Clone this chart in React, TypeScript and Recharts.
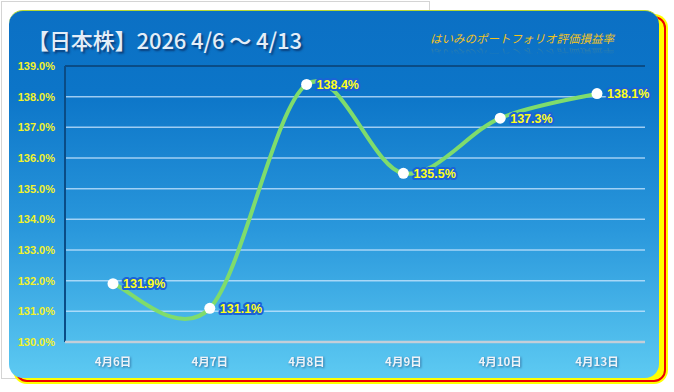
import React from "react";
import { LineChart, Line, XAxis, YAxis, CartesianGrid, LabelList, ReferenceLine } from "recharts";

const days = ["4月6日", "4月7日", "4月8日", "4月9日", "4月10日", "4月13日"];
const rates = [131.9, 131.1, 138.4, 135.5, 137.3, 138.1];
const yTicks = [130, 131, 132, 133, 134, 135, 136, 137, 138, 139];
const frameTicks = [0, 1, 2, 3, 4, 5, 6];

const data = days.map((day, i) => ({ day, rate: rates[i] }));

// Excel-style smoothed line (Catmull-Rom through every point)
const smoothCurve = (context: any) => {
    let pts: number[][] = [];
    return {
        areaStart() {},
        areaEnd() {},
        lineStart() { pts = []; },
        point(x: number, y: number) { pts.push([+x, +y]); },
        lineEnd() {
            if (!pts.length) return;
            context.moveTo(pts[0][0], pts[0][1]);
            for (let i = 0; i < pts.length - 1; i++) {
                const p0 = pts[i - 1] || pts[i];
                const p1 = pts[i];
                const p2 = pts[i + 1];
                const p3 = pts[i + 2] || pts[i + 1];
                context.bezierCurveTo(
                    p1[0] + (p2[0] - p0[0]) / 6, p1[1] + (p2[1] - p0[1]) / 6,
                    p2[0] - (p3[0] - p1[0]) / 6, p2[1] - (p3[1] - p1[1]) / 6,
                    p2[0], p2[1]
                );
            }
        },
    };
};

const PointLabel = (props: any) => {
    const x = props.x ?? props.viewBox?.x;
    const y = props.y ?? props.viewBox?.y;
    return (
        <text
            x={x + 10}
            y={y}
            dy={4.5}
            fill="#ffff1a"
            stroke="#1b63d6"
            strokeWidth={4}
            strokeLinejoin="round"
            paintOrder="stroke"
            fontFamily="'Liberation Sans', Arial, sans-serif"
            fontWeight="bold"
            fontSize={12.5}
        >
            {`${Number(props.value).toFixed(1)}%`}
        </text>
    );
};

const DayTick = ({ x, y, payload }: any) => (
    <text
        x={x}
        y={y}
        dy={10}
        textAnchor="middle"
        fill="#eef3f8"
        fontFamily="'Noto Sans CJK JP', sans-serif"
        fontWeight="bold"
        fontSize={11.5}
        style={{ filter: "drop-shadow(1px 1px 1px rgba(20,60,110,0.6))" }}
    >
        {payload.value}
    </text>
);

export default function App() {
    return (
        <div style={{ position: "fixed", left: 0, top: 0, width: 674, height: 392, background: "#fff", overflow: "hidden" }}>
            {/* faint frame behind */}
            <div style={{ position: "absolute", left: 1, top: 1, width: 427, height: 376, border: "1px solid #d4d4d4" }} />

            {/* yellow / red shadow */}
            <div style={{ position: "absolute", left: 13, top: 14, width: 655, height: 370, background: "#ffff00", borderRadius: 14 }}>
                <div style={{ position: "absolute", left: 2, top: 2, right: 2, bottom: 2, border: "2px solid #ee0000", borderRadius: 12 }} />
            </div>

            {/* card */}
            <div
                style={{
                    position: "absolute",
                    left: 9,
                    top: 10,
                    width: 650,
                    height: 368,
                    borderRadius: 14,
                    background: "linear-gradient(to bottom, #0b70c4 0%, #0c75c8 22%, #2a98dc 60%, #5dcaf2 100%)",
                    borderTop: "1px solid #b8d830",
                    boxSizing: "border-box",
                }}
            />

            <div
                style={{
                    position: "absolute",
                    left: 27,
                    top: 23,
                    color: "#e4eef8",
                    fontFamily: "'Noto Sans CJK JP', sans-serif",
                    fontSize: 22,
                    fontWeight: 500,
                    whiteSpace: "nowrap",
                    letterSpacing: -0.1,
                    textShadow: "2px 2px 2px rgba(10,40,90,0.7)",
                }}
            >
                【日本株】2026 4/6 ～ 4/13
            </div>

            <div style={{ position: "absolute", left: 430, top: 30, fontFamily: "'Noto Sans CJK JP', sans-serif", fontSize: 11.5, fontStyle: "italic", color: "#f2c21e", whiteSpace: "nowrap", lineHeight: "16px" }}>
                はいみのポートフォリオ評価損益率
            </div>
            <div
                style={{
                    position: "absolute",
                    left: 430,
                    top: 46,
                    fontFamily: "'Noto Sans CJK JP', sans-serif",
                    fontSize: 11.5,
                    fontStyle: "italic",
                    color: "#f2c21e",
                    whiteSpace: "nowrap",
                    lineHeight: "16px",
                    transform: "scaleY(-1)",
                    opacity: 0.25,
                    WebkitMaskImage: "linear-gradient(to top, rgba(0,0,0,1), rgba(0,0,0,0) 55%)",
                }}
            >
                はいみのポートフォリオ評価損益率
            </div>

            <div style={{ position: "absolute", left: 0, top: 0 }}>
                <LineChart width={674} height={392} data={data} margin={{ top: 66, right: 29, bottom: 0, left: 0 }}>
                    <CartesianGrid xAxisId="b" vertical={false} stroke="rgba(205,232,255,0.75)" strokeWidth={1.5} />
                    <XAxis
                        xAxisId="b"
                        dataKey="day"
                        height={44}
                        axisLine={false}
                        tickLine={false}
                        tickSize={0}
                        tickMargin={8}
                        interval={0}
                        padding={{ left: 48, right: 48 }}
                        tick={<DayTick />}
                    />
                    <XAxis
                        xAxisId="a"
                        type="number"
                        domain={[0, 6]}
                        ticks={frameTicks}
                        tick={false}
                        height={6}
                        axisLine={{ stroke: "#c4ced8", strokeWidth: 2.5 }}
                        tickLine={{ stroke: "#c4ced8", strokeWidth: 1.5 }}
                        tickSize={5}
                    />
                    <YAxis
                        domain={[130, 139]}
                        ticks={yTicks}
                        width={65}
                        axisLine={false}
                        tickLine={false}
                        tickSize={0}
                        tickMargin={10}
                        tickFormatter={(v: number) => `${v.toFixed(1)}%`}
                        tick={{ fill: "#f2f22a", fontSize: 11, fontWeight: "bold", fontFamily: "'Liberation Sans', Arial, sans-serif" }}
                    />
                    <ReferenceLine xAxisId="a" x={0} stroke="#0a4c86" strokeWidth={2} />
                    <ReferenceLine xAxisId="a" x={6} stroke="#0a4c86" strokeWidth={2} />
                    <ReferenceLine xAxisId="a" y={139} stroke="#0a4c86" strokeWidth={2} />
                    <Line
                        xAxisId="b"
                        dataKey="rate"
                        type={smoothCurve as any}
                        stroke="#7fdc6c"
                        strokeWidth={4}
                        dot={{ r: 5.5, fill: "#ffffff", stroke: "none" }}
                        activeDot={false}
                        isAnimationActive={false}
                    >
                        <LabelList dataKey="rate" content={<PointLabel />} />
                    </Line>
                </LineChart>
            </div>
        </div>
    );
}
